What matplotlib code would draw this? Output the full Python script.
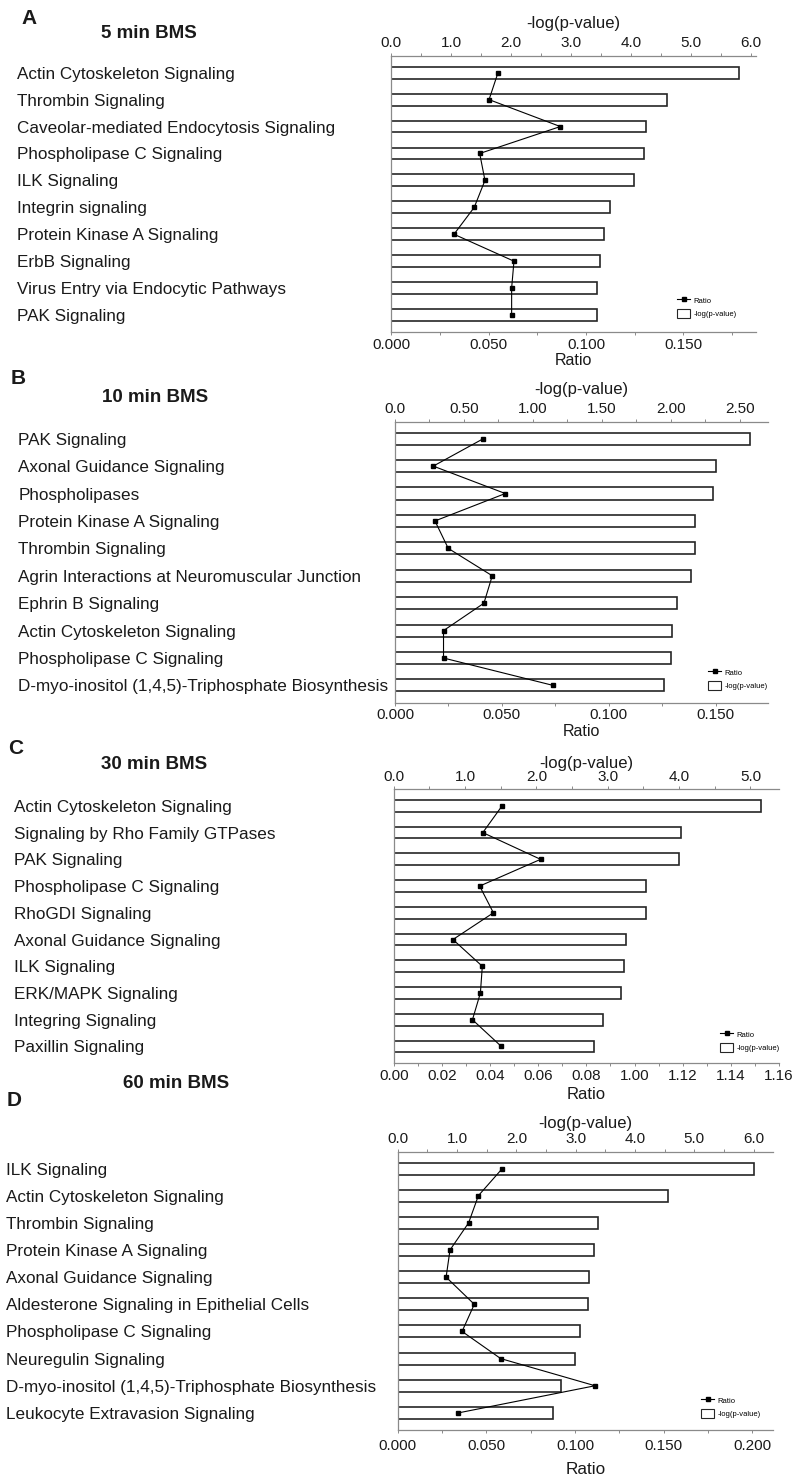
import matplotlib
matplotlib.use("Agg")
import matplotlib.pyplot as plt
import matplotlib.transforms as mtransforms
from matplotlib.ticker import MultipleLocator
from matplotlib.lines import Line2D
from matplotlib.patches import Patch

plt.rcParams['font.family'] = ['Liberation Sans', 'DejaVu Sans']

# ---------------- data ----------------
cats_a = ["Actin Cytoskeleton Signaling", "Thrombin Signaling",
          "Caveolar-mediated Endocytosis Signaling", "Phospholipase C Signaling",
          "ILK Signaling", "Integrin signaling", "Protein Kinase A Signaling",
          "ErbB Signaling", "Virus Entry via Endocytic Pathways", "PAK Signaling"]
pval_a = [5.79, 4.59, 4.24, 4.22, 4.04, 3.64, 3.54, 3.48, 3.43, 3.43]
ratio_a = [0.0548, 0.0502, 0.0868, 0.0454, 0.0481, 0.0426, 0.0322, 0.0630, 0.0618, 0.0618]

cats_b = ["PAK Signaling", "Axonal Guidance Signaling", "Phospholipases",
          "Protein Kinase A Signaling", "Thrombin Signaling",
          "Agrin Interactions at Neuromuscular Junction", "Ephrin B Signaling",
          "Actin Cytoskeleton Signaling", "Phospholipase C Signaling",
          "D-myo-inositol (1,4,5)-Triphosphate Biosynthesis"]
pval_b = [2.572, 2.326, 2.307, 2.179, 2.179, 2.150, 2.048, 2.007, 1.998, 1.954]
ratio_b = [0.0413, 0.0179, 0.0516, 0.0187, 0.0249, 0.0455, 0.0416, 0.0227, 0.0227, 0.0740]

cats_c = ["Actin Cytoskeleton Signaling", "Signaling by Rho Family GTPases",
          "PAK Signaling", "Phospholipase C Signaling", "RhoGDI Signaling",
          "Axonal Guidance Signaling", "ILK Signaling", "ERK/MAPK Signaling",
          "Integring Signaling", "Paxillin Signaling"]
pval_c = [5.15, 4.02, 4.00, 3.54, 3.53, 3.26, 3.23, 3.18, 2.93, 2.81]
ratio_c = [0.0450, 0.0370, 0.0610, 0.0357, 0.0414, 0.0246, 0.0368, 0.0360, 0.0327, 0.0447]

cats_d = ["ILK Signaling", "Actin Cytoskeleton Signaling", "Thrombin Signaling",
          "Protein Kinase A Signaling", "Axonal Guidance Signaling",
          "Aldesterone Signaling in Epithelial Cells", "Phospholipase C Signaling",
          "Neuregulin Signaling", "D-myo-inositol (1,4,5)-Triphosphate Biosynthesis",
          "Leukocyte Extravasion Signaling"]
pval_d = [6.01, 4.56, 3.37, 3.30, 3.23, 3.20, 3.08, 2.98, 2.76, 2.62]
ratio_d = [0.0590, 0.0455, 0.0400, 0.0295, 0.0273, 0.0432, 0.0363, 0.0581, 0.1113, 0.0342]

ptick_a = [0, 1, 2, 3, 4, 5, 6]
ptlab_a = ["0.0", "1.0", "2.0", "3.0", "4.0", "5.0", "6.0"]
rtick_a = [0, 0.05, 0.10, 0.15]
rtlab_a = ["0.000", "0.050", "0.100", "0.150"]

ptick_b = [0, 0.5, 1.0, 1.5, 2.0, 2.5]
ptlab_b = ["0.0", "0.50", "1.00", "1.50", "2.00", "2.50"]
rtick_b = [0, 0.05, 0.10, 0.15]
rtlab_b = ["0.000", "0.050", "0.100", "0.150"]

ptick_c = [0, 1, 2, 3, 4, 5]
ptlab_c = ["0.0", "1.0", "2.0", "3.0", "4.0", "5.0"]
rtick_c = [0, 0.02, 0.04, 0.06, 0.08, 0.10, 0.12, 0.14, 0.16]
rtlab_c = ["0.00", "0.02", "0.04", "0.06", "0.08", "1.00", "1.12", "1.14", "1.16"]

ptick_d = [0, 1, 2, 3, 4, 5, 6]
ptlab_d = ["0.0", "1.0", "2.0", "3.0", "4.0", "5.0", "6.0"]
rtick_d = [0, 0.05, 0.10, 0.15, 0.20]
rtlab_d = ["0.000", "0.050", "0.100", "0.150", "0.200"]

# ---------------- layout ----------------
W, H = 793, 1479
fig = plt.figure(figsize=(W / 100, H / 100), dpi=100)

panels = [
    dict(letter="A", title="5 min BMS", cats=cats_a, pv=pval_a, ra=ratio_a,
         pt=ptick_a, ptl=ptlab_a, rt=rtick_a, rtl=rtlab_a,
         rect=(391.3, 56, 756, 332), pmax=6.08, rmax=0.1873, pmin=0.5, rmin=0.025,
         toplab_pad=6, bot_pad=1.5, ratio_pad=1, ratio_fs=11.5,
         letter_xy=(29, 19), title_xy=(149, 34), label_x=17, legend_xy=(677, 296)),
    dict(letter="B", title="10 min BMS", cats=cats_b, pv=pval_b, ra=ratio_b,
         pt=ptick_b, ptl=ptlab_b, rt=rtick_b, rtl=rtlab_b,
         rect=(395, 421.7, 768, 702.7), pmax=2.705, rmax=0.1745, pmin=0.25, rmin=0.025,
         toplab_pad=6, bot_pad=1.5, ratio_pad=1, ratio_fs=11.5,
         letter_xy=(18, 379), title_xy=(155, 398), label_x=18.5, legend_xy=(708, 668)),
    dict(letter="C", title="30 min BMS", cats=cats_c, pv=pval_c, ra=ratio_c,
         pt=ptick_c, ptl=ptlab_c, rt=rtick_c, rtl=rtlab_c,
         rect=(393.7, 789.3, 779, 1063.3), pmax=5.40, rmax=0.16, pmin=0.5, rmin=0.01,
         toplab_pad=1.6, bot_pad=1.5, ratio_pad=3, ratio_fs=12,
         letter_xy=(16, 748), title_xy=(154, 764), label_x=13.5, legend_xy=(720, 1030)),
    dict(letter="D", title="60 min BMS", cats=cats_d, pv=pval_d, ra=ratio_d,
         pt=ptick_d, ptl=ptlab_d, rt=rtick_d, rtl=rtlab_d,
         rect=(397.7, 1151.7, 772.7, 1430), pmax=6.32, rmax=0.2115, pmin=0.5, rmin=0.025,
         toplab_pad=3, bot_pad=3.7, ratio_pad=7, ratio_fs=12.3,
         letter_xy=(14.5, 1101), title_xy=(176, 1084), label_x=5.5, legend_xy=(701, 1396)),
]

AXC = "#8a8a8a"
EDGE = "#262626"
TXT = "#1a1a1a"

for p in panels:
    l, t, r, b = p["rect"]
    ax = fig.add_axes([l / W, 1 - b / H, (r - l) / W, (b - t) / H])
    ax2 = ax.twiny()
    y = list(range(len(p["cats"])))

    # bars on the -log(p-value) axis (top)
    ax.barh(y, p["pv"], height=0.44, color="white", edgecolor=EDGE, linewidth=1.2, zorder=2)
    ax.set_xlim(0, p["pmax"])
    ax.set_ylim(9.63, -0.62)
    ax.set_yticks([])
    ax.xaxis.tick_top()
    ax.xaxis.set_label_position("top")
    ax.set_xticks(p["pt"])
    ax.set_xticklabels(p["ptl"])
    ax.xaxis.set_minor_locator(MultipleLocator(p["pmin"]))
    ax.set_xlabel("-log(p-value)", fontsize=12, color=TXT, labelpad=p["toplab_pad"])
    ax.tick_params(axis="x", which="both", length=2.5, width=0.7, color=AXC,
                   labelsize=11, labelcolor=TXT, pad=1.5,
                   top=True, bottom=False, labeltop=True, labelbottom=False)
    for s in ("right", "bottom"):
        ax.spines[s].set_visible(False)
    for s in ("top", "left"):
        ax.spines[s].set_color(AXC)
        ax.spines[s].set_linewidth(0.9)

    # ratio line on the bottom axis
    ax2.plot(p["ra"], y, color="black", marker="s", markersize=3.5, linewidth=0.8, zorder=3)
    ax2.set_xlim(0, p["rmax"])
    ax2.set_ylim(9.63, -0.62)
    ax2.xaxis.tick_bottom()
    ax2.xaxis.set_label_position("bottom")
    ax2.set_xticks(p["rt"])
    ax2.set_xticklabels(p["rtl"])
    ax2.xaxis.set_minor_locator(MultipleLocator(p["rmin"]))
    ax2.set_xlabel("Ratio", fontsize=p["ratio_fs"], color=TXT, labelpad=p["ratio_pad"])
    ax2.tick_params(axis="x", which="both", length=2.5, width=0.7, color=AXC,
                    labelsize=11, labelcolor=TXT, pad=p["bot_pad"],
                    top=False, bottom=True, labeltop=False, labelbottom=True)
    for s in ("right", "top", "left"):
        ax2.spines[s].set_visible(False)
    ax2.spines["bottom"].set_color(AXC)
    ax2.spines["bottom"].set_linewidth(0.9)

    trans = mtransforms.blended_transform_factory(fig.transFigure, ax.transData)
    for i, c in enumerate(p["cats"]):
        ax.text(p["label_x"] / W, i, c, transform=trans, ha="left", va="center_baseline",
                fontsize=12.3, color=TXT, clip_on=False)

    fig.text(p["letter_xy"][0] / W, 1 - p["letter_xy"][1] / H, p["letter"],
             fontsize=15, fontweight="bold", ha="center", va="center", color=TXT)
    fig.text(p["title_xy"][0] / W, 1 - p["title_xy"][1] / H, p["title"],
             fontsize=13.5, fontweight="bold", ha="center", va="center", color=TXT)

    h1 = Line2D([], [], color="black", marker="s", markersize=3.4, linewidth=0.8)
    h2 = Patch(facecolor="white", edgecolor=EDGE, linewidth=0.8)
    ax2.legend([h1, h2], ["Ratio", "-log(p-value)"], loc="upper left",
               bbox_to_anchor=(p["legend_xy"][0] / W, 1 - p["legend_xy"][1] / H),
               bbox_transform=fig.transFigure, frameon=False, fontsize=5.5,
               handlelength=1.75, handleheight=1.3, borderpad=0, borderaxespad=0,
               labelspacing=0.6, handletextpad=0.4)

fig.savefig("out.png", dpi=100)
